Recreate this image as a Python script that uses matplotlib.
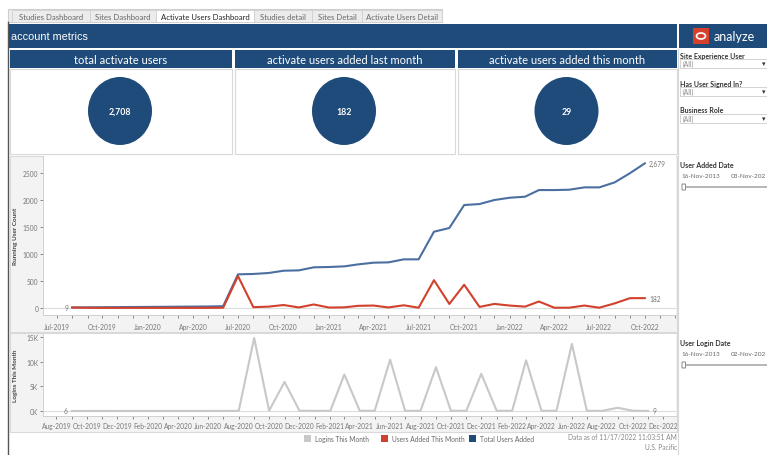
import pandas as pd
import matplotlib
matplotlib.use("Agg")
import matplotlib.pyplot as plt
import matplotlib.dates as mdates
from matplotlib.patches import Rectangle, Ellipse, FancyBboxPatch
from matplotlib.ticker import FuncFormatter

W, H = 767, 456
plt.rcParams['font.family'] = ['Lato', 'DejaVu Sans']

NAVY = "#1f4b7a"
BLUE_LINE = "#4a6fa0"
RED = "#d2412c"
GRAY_LINE = "#c8c8c8"
TXT = "#777777"

# ---- data ----
tabs = ["Studies Dashboard", "Sites Dashboard", "Activate Users Dashboard",
        "Studies detail", "Sites Detail", "Activate Users Detail"]
kpi_titles = ["total activate users", "activate users added last month",
              "activate users added this month"]
kpi_values = [2708, 182, 29]

# Aug-2019 .. Oct-2022
added_months = pd.date_range("2019-08-01", "2022-10-01", freq="MS")
total_users = [9, 12, 14, 16, 18, 20, 22, 24, 26, 28, 33,
               623, 630, 648, 690, 697, 753,
               759, 771, 808, 839, 845, 901, 901, 1413, 1481, 1907, 1925, 2000,
               2042, 2061, 2184, 2184, 2190, 2234, 2234, 2326, 2497, 2679]
users_added = [9, 3, 2, 2, 2, 2, 2, 2, 2, 2, 5,
               590, 15, 25, 55, 10, 65,
               8, 12, 40, 45, 10, 50, 5, 515, 75, 430, 20, 75,
               45, 25, 120, 5, 5, 45, 5, 85, 182, 182]

# Sep-2019 .. Nov-2022
login_months = pd.date_range("2019-09-01", "2022-11-01", freq="MS")
logins = [6, 8, 10, 8, 12, 10, 9, 11, 10, 12, 15, 30,
          14800, 60, 5900, 50,
          40, 45, 7400, 50, 45, 10400, 40, 45, 8870, 50, 45, 7540,
          40, 45, 10270, 40, 50, 13600, 40, 45, 650, 60, 9]

filters = ["Site Experience User", "Has User Signed In?", "Business Role"]

fig = plt.figure(figsize=(W / 100, H / 100), dpi=100)
bg = fig.add_axes([0, 0, 1, 1])
bg.set_xlim(0, W)
bg.set_ylim(H, 0)
bg.axis("off")


def rect(x0, y0, x1, y1, fc, ec="none", lw=0.8, z=1):
    bg.add_patch(Rectangle((x0, y0), x1 - x0, y1 - y0, fc=fc, ec=ec, lw=lw, zorder=z))


def px_axes(x0, y0, x1, y1):
    return fig.add_axes([x0 / W, 1 - y1 / H, (x1 - x0) / W, (y1 - y0) / H])


# tab strip
rect(8, 10, 442, 23, "#ececec", "#cfcfcf")
tab_x = [12, 90, 156, 254, 312, 362, 442]
for i, t in enumerate(tabs):
    active = i == 2
    rect(tab_x[i], 11, tab_x[i + 1], 23, "white" if active else "#ececec", "#cfcfcf", 0.6, 2)
    bg.text((tab_x[i] + tab_x[i + 1]) / 2, 17, t, ha="center", va="center", fontsize=5.6,
            color="#222222" if active else "#666666", zorder=3)

# header band
rect(8, 25, 677, 49, NAVY)
bg.text(11, 37.5, "account metrics", color="white", fontsize=7.8, va="center",
        family=["Liberation Sans", "DejaVu Sans"])

# analyze logo panel
rect(679, 25, 767, 49, NAVY)
rect(693, 29, 709, 45, "#d6412e", z=2)
bg.add_patch(Ellipse((701, 37), 9, 6, fc="none", ec="white", lw=1.2, zorder=3))
bg.text(714, 37, "analyze", color="white", fontsize=9, va="center", zorder=3)

# left dark border and right separator
bg.plot([8, 8], [23, 456], color="#555555", lw=1.0)
bg.plot([678, 678], [50, 456], color="#d8d8d8", lw=0.8)

# KPI tiles
kpi_x = [(10, 232), (235, 455), (458, 677)]
for (x0, x1), title, val in zip(kpi_x, kpi_titles, kpi_values):
    rect(x0, 51, x1, 69, NAVY)
    bg.text((x0 + x1) / 2, 60.5, title, color="white", fontsize=8, ha="center", va="center")
    rect(x0, 70, x1, 155, "white", "#d9d9d9")
    cx = (x0 + x1) / 2 - 1
    bg.add_patch(Ellipse((cx, 112), 64, 68, fc=NAVY, ec="none", zorder=2))
    bg.text(cx, 112.5, f"{val:,}", color="white", fontsize=6.3, fontweight="bold",
            ha="center", va="center", zorder=3)

# chart panels (bands)
rect(10, 157, 677, 333, "#f3f3f3", "#d9d9d9")
rect(10, 334, 677, 433, "#f3f3f3", "#d9d9d9")
bg.text(16, 236, "Running User Count", rotation=90, ha="center", va="center",
        fontsize=4.6, fontweight="bold", color="#444444")
bg.text(16, 376, "Logins This Month", rotation=90, ha="center", va="center",
        fontsize=4.6, fontweight="bold", color="#444444")


def style(ax):
    ax.set_facecolor("white")
    for s in ["top", "right"]:
        ax.spines[s].set_visible(False)
    for s in ["left", "bottom"]:
        ax.spines[s].set_color("#d0d0d0")
        ax.spines[s].set_linewidth(0.7)
    ax.tick_params(axis="both", which="both", labelsize=4.8, colors=TXT,
                   length=2, width=0.6, pad=1.5)
    ax.axhline(0, color="#dcdcdc", lw=0.8, zorder=0)


# top chart
ax1 = px_axes(43, 157, 676, 316)
style(ax1)
ax1.plot(added_months, total_users, color=BLUE_LINE, lw=1.5, zorder=3)
ax1.plot(added_months, users_added, color=RED, lw=1.5, zorder=4)
ax1.set_ylim(-130, 2815)
ax1.set_yticks([0, 500, 1000, 1500, 2000, 2500])
ax1.set_xlim(pd.Timestamp("2019-06-03"), pd.Timestamp("2022-12-03"))
ax1.xaxis.set_major_locator(mdates.MonthLocator(bymonth=[1, 4, 7, 10]))
ax1.xaxis.set_minor_locator(mdates.MonthLocator())
ax1.xaxis.set_major_formatter(mdates.DateFormatter("%b-%Y"))
ax1.tick_params(axis="x", pad=4)
ax1.annotate(f"{total_users[-1]:,}", (added_months[-1], total_users[-1]), xytext=(3, 0),
             textcoords="offset points", fontsize=4.8, color=TXT, va="center")
ax1.annotate(f"{users_added[-1]:,}", (added_months[-1], users_added[-1]), xytext=(3, 0),
             textcoords="offset points", fontsize=4.8, color=TXT, va="center")
ax1.annotate(f"{total_users[0]:,}", (added_months[0], total_users[0]), xytext=(-3, 0),
             textcoords="offset points", fontsize=4.8, color=TXT, va="center", ha="right")

# bottom chart
ax2 = px_axes(43, 335, 676, 417)
style(ax2)
ax2.plot(login_months, logins, color=GRAY_LINE, lw=1.5, zorder=3)
ax2.set_ylim(-1010, 15600)
ax2.set_yticks([0, 5000, 10000, 15000])
ax2.yaxis.set_major_formatter(FuncFormatter(lambda v, p: f"{int(v / 1000)}K"))
ax2.set_xlim(pd.Timestamp("2019-07-05"), pd.Timestamp("2022-12-27"))
ax2.xaxis.set_major_locator(mdates.MonthLocator(bymonth=[2, 4, 6, 8, 10, 12]))
ax2.xaxis.set_minor_locator(mdates.MonthLocator())
ax2.xaxis.set_major_formatter(mdates.DateFormatter("%b-%Y"))
ax2.tick_params(axis="x", pad=2.5)
ax2.annotate(f"{logins[0]}", (login_months[0], logins[0]), xytext=(-3, 0),
             textcoords="offset points", fontsize=4.8, color=TXT, va="center", ha="right")
ax2.annotate(f"{logins[-1]}", (login_months[-1], logins[-1]), xytext=(3, 0),
             textcoords="offset points", fontsize=4.8, color=TXT, va="center")

# legend
legend_items = [("Logins This Month", GRAY_LINE, 304), ("Users Added This Month", RED, 381),
                ("Total Users Added", NAVY, 469)]
for name, col, x in legend_items:
    rect(x, 436.5, x + 7, 443.5, col, z=2)
    bg.text(x + 11, 440, name, fontsize=4.8, color="#666666", va="center")
bg.text(677, 438, "Data as of 11/17/2022 11:03:51 AM", fontsize=4.8, color="#888888",
        ha="right", va="center")
bg.text(677, 448, "U.S. Pacific", fontsize=4.8, color="#888888", ha="right", va="center")

# right filter panel
fy = [56, 84, 111]
for name, y in zip(filters, fy):
    bg.text(680, y, name, fontsize=5, fontweight="bold", color="#333333", va="center")
    rect(680, y + 4, 768, y + 13, "white", "#cccccc", 0.6)
    bg.text(683, y + 8.5, "(All)", fontsize=4.8, color="#888888", va="center")
    bg.text(764, y + 8.5, "\u25be", fontsize=5, color="#333333", va="center", ha="center",
            family=["DejaVu Sans"])

for title, y, end in [("User Added Date", 166, "03-Nov-202"), ("User Login Date", 344, "02-Nov-202")]:
    bg.text(680, y, title, fontsize=5, fontweight="bold", color="#333333", va="center")
    bg.text(682, y + 11, "16-Nov-2013", fontsize=4.6, color="#666666", va="center")
    bg.text(766, y + 11, end, fontsize=4.6, color="#666666", va="center", ha="right")
    bg.plot([685, 767], [y + 22, y + 22], color="#aaaaaa", lw=1.2)
    bg.add_patch(FancyBboxPatch((682.5, y + 19.5), 2.5, 5, boxstyle="round,pad=0.5",
                                fc="white", ec="#888888", lw=0.7, zorder=3))

fig.savefig("out.png", dpi=100)
